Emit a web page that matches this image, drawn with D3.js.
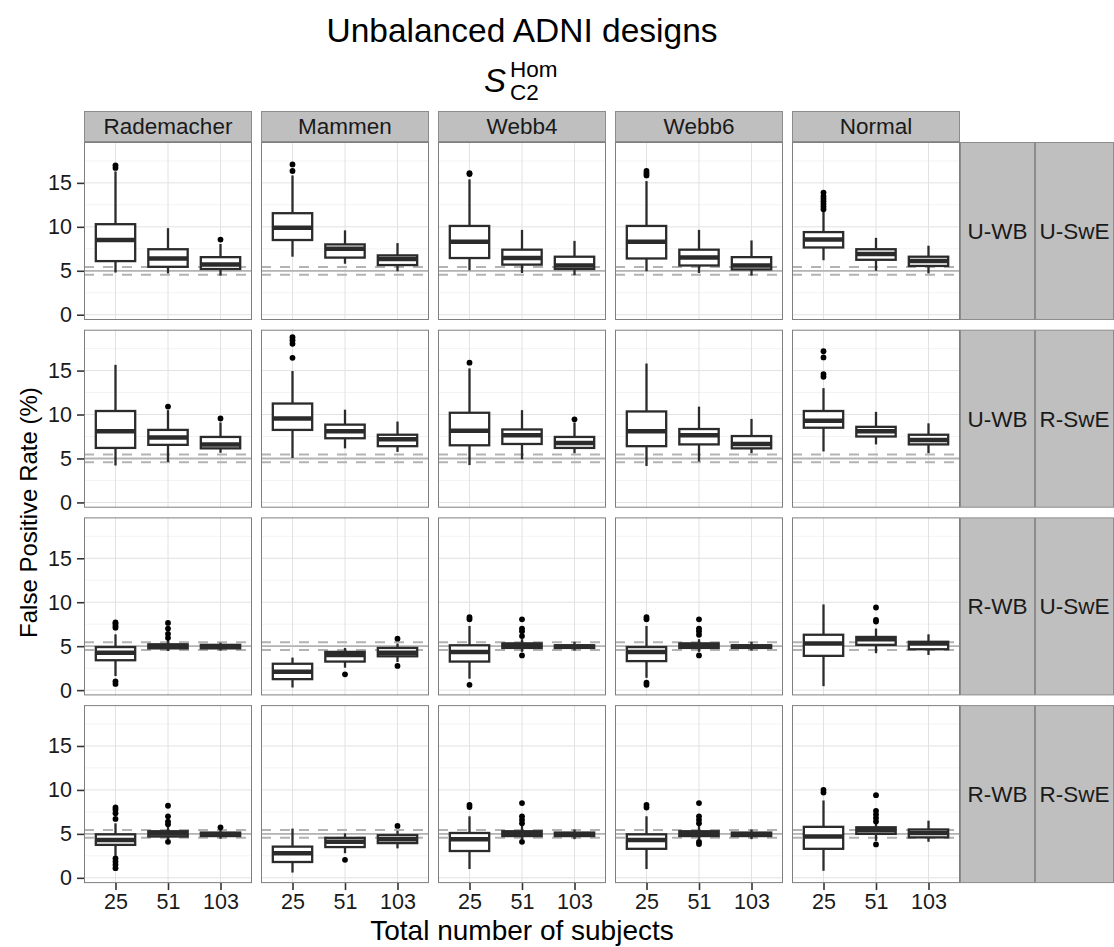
<!DOCTYPE html>
<html>
<head>
<meta charset="utf-8">
<script src="https://cdn.jsdelivr.net/npm/d3@7"></script>
<style>
  html, body { margin: 0; padding: 0; background: #fff; }
  svg { display: block; font-family: "Liberation Sans", Arial, Helvetica, sans-serif; }
</style>
</head>
<body>
<svg id="chart" width="1114" height="947"></svg>
<script>
// Facet levels
const methods = ["Rademacher", "Mammen", "Webb4", "Webb6", "Normal"];
const wbLabels = ["U-WB", "U-WB", "R-WB", "R-WB"];
const sweLabels = ["U-SwE", "R-SwE", "U-SwE", "R-SwE"];
const sizes = ["25", "51", "103"];
const yTicks = [0, 5, 10, 15];
const yMinor = [2.5, 7.5, 12.5, 17.5];

// Nominal level and its 95% band
const nominal = 5;
const bandLow = 4.56;
const bandHigh = 5.44;

// Box statistics per facet row, one entry per method x size:
// [lower whisker, Q1, median, Q3, upper whisker, outliers]
const statsUwbUswe = [
  [4.8, 6.1, 8.5, 10.3, 16.3, [16.7, 17.0]],
  [4.7, 5.45, 6.4, 7.45, 9.85, []],
  [4.45, 5.2, 5.7, 6.55, 8.05, [8.55]],
  [6.6, 8.5, 9.9, 11.55, 15.85, [16.35, 17.1]],
  [5.8, 6.5, 7.5, 8.0, 9.6, []],
  [4.95, 5.65, 6.35, 6.75, 8.15, []],
  [5.05, 6.45, 8.3, 10.1, 15.4, [16.0, 16.1]],
  [4.75, 5.7, 6.45, 7.4, 9.65, []],
  [4.5, 5.2, 5.6, 6.6, 8.4, []],
  [4.95, 6.4, 8.3, 10.1, 15.2, [15.85, 16.1, 16.35]],
  [4.75, 5.6, 6.5, 7.4, 9.65, []],
  [4.45, 5.15, 5.6, 6.55, 8.45, []],
  [6.2, 7.65, 8.55, 9.4, 11.7, [12.0, 12.3, 12.6, 12.9, 13.2, 13.5, 13.9]],
  [5.0, 6.25, 6.9, 7.45, 8.75, []],
  [4.7, 5.55, 6.1, 6.6, 7.85, []]
];
const statsUwbRswe = [
  [4.2, 6.2, 8.1, 10.4, 15.65, []],
  [4.6, 6.55, 7.4, 8.25, 10.5, [10.9]],
  [5.65, 6.15, 6.6, 7.45, 9.1, [9.55]],
  [5.05, 8.25, 9.55, 11.25, 14.95, [16.45, 18.05, 18.45, 18.8]],
  [6.15, 7.3, 8.1, 8.85, 10.55, []],
  [5.75, 6.4, 7.2, 7.7, 9.2, []],
  [4.25, 6.5, 8.15, 10.2, 15.25, [15.9]],
  [4.9, 6.65, 7.65, 8.3, 10.5, []],
  [5.6, 6.2, 6.75, 7.45, 9.1, [9.45]],
  [4.15, 6.4, 8.1, 10.35, 15.8, []],
  [4.65, 6.6, 7.65, 8.35, 10.9, []],
  [5.6, 6.15, 6.65, 7.55, 9.5, []],
  [5.8, 8.5, 9.3, 10.4, 13.0, [14.3, 14.6, 16.5, 17.2]],
  [6.6, 7.5, 8.1, 8.6, 10.3, []],
  [5.6, 6.6, 7.1, 7.7, 9.0, []]
];
const statsRwbUswe = [
  [1.6, 3.4, 4.25, 4.9, 6.35, [0.7, 1.0, 7.1, 7.3, 7.55, 7.7]],
  [4.45, 4.75, 5.05, 5.2, 5.7, [5.95, 6.4, 7.0, 7.65]],
  [4.5, 4.75, 4.95, 5.15, 5.4, []],
  [0.3, 1.25, 2.1, 3.0, 3.7, []],
  [2.55, 3.25, 4.0, 4.35, 4.8, [1.8]],
  [3.2, 3.85, 4.25, 4.8, 5.3, [2.75, 5.85]],
  [1.3, 3.25, 4.35, 5.1, 7.3, [0.6, 8.05, 8.3]],
  [4.35, 4.8, 5.15, 5.3, 5.8, [3.95, 6.15, 6.7, 7.0, 8.05]],
  [4.5, 4.8, 4.95, 5.1, 5.5, []],
  [1.4, 3.3, 4.35, 4.9, 7.3, [0.6, 0.85, 8.05, 8.3]],
  [4.35, 4.8, 5.15, 5.3, 5.8, [3.95, 6.3, 6.7, 7.0, 8.05]],
  [4.5, 4.8, 4.95, 5.1, 5.5, []],
  [0.45, 3.9, 5.3, 6.3, 9.75, []],
  [4.2, 5.15, 5.8, 6.05, 7.0, [7.8, 8.0, 9.4]],
  [4.0, 4.65, 5.3, 5.5, 6.35, []]
];
const statsRwbRswe = [
  [2.5, 3.75, 4.3, 4.95, 6.2, [1.1, 1.5, 1.85, 2.2, 6.7, 7.35, 7.75, 8.0]],
  [4.4, 4.7, 5.05, 5.3, 5.9, [4.1, 6.1, 6.4, 7.0, 8.2]],
  [4.45, 4.75, 4.95, 5.15, 5.5, [5.75]],
  [0.6, 1.8, 2.8, 3.55, 5.6, []],
  [2.8, 3.5, 4.1, 4.55, 5.05, [2.05]],
  [3.35, 3.95, 4.4, 4.85, 5.35, [5.9]],
  [1.0, 3.05, 4.4, 5.1, 7.0, [8.05, 8.3]],
  [4.4, 4.75, 5.05, 5.3, 5.9, [4.1, 6.2, 6.6, 7.0, 8.5]],
  [4.4, 4.75, 4.95, 5.15, 5.5, []],
  [1.0, 3.3, 4.3, 4.95, 7.0, [8.0, 8.3]],
  [4.4, 4.75, 5.05, 5.3, 5.9, [3.85, 4.1, 6.2, 6.6, 7.0, 8.5]],
  [4.4, 4.75, 4.95, 5.15, 5.5, []],
  [0.8, 3.3, 4.7, 5.8, 8.8, [9.7, 10.0]],
  [4.2, 5.0, 5.4, 5.75, 6.2, [3.8, 6.4, 6.8, 7.2, 7.6, 9.4]],
  [4.1, 4.6, 5.1, 5.5, 6.5, []]
];
const facetRows = [statsUwbUswe, statsUwbRswe, statsRwbUswe, statsRwbRswe];

// Layout
const panelLeft = 84, panelW = 168, colStep = 177;
const panelTop = 142, panelH = 178, rowStep = 187.7;
const stripTop = 111;
const wbStripX = 960, sweStripX = 1035, rightEdge = 1114;

const svg = d3.select("#chart");
const fontTick = 21.5, fontStrip = 22.5;
const stripFill = "#bfbfbf", stripStroke = "#8c8c8c";
const boxColor = "#2b2b2b";

const y = d3.scaleLinear().domain([-0.6, 19.65]).range([panelH, 0]);
const x = d3.scalePoint().domain(sizes).range([0, panelW]).padding(0.6);
const boxW = x.step() * 0.75;

// Title and subtitle
const cx = panelLeft + (colStep * 4 + panelW) / 2;
svg.append("text").attr("x", cx).attr("y", 42).attr("text-anchor", "middle")
  .attr("font-size", 33.5).attr("fill", "#000").text("Unbalanced ADNI designs");
const sub = svg.append("g").attr("transform", `translate(${cx - 38},0)`);
sub.append("text").attr("x", 0).attr("y", 92).attr("font-size", 33)
  .attr("font-style", "italic").text("S");
sub.append("text").attr("x", 26).attr("y", 77).attr("font-size", 22.5).text("Hom");
sub.append("text").attr("x", 26).attr("y", 100).attr("font-size", 22.5).text("C2");

// Column strips
methods.forEach((m, c) => {
  const px = panelLeft + c * colStep;
  svg.append("rect").attr("x", px + 0.5).attr("y", stripTop + 0.5)
    .attr("width", panelW - 1).attr("height", panelTop - stripTop - 1)
    .attr("fill", stripFill).attr("stroke", stripStroke);
  svg.append("text").attr("x", px + panelW / 2).attr("y", (stripTop + panelTop) / 2)
    .attr("dy", "0.35em").attr("text-anchor", "middle").attr("font-size", fontStrip)
    .attr("fill", "#1a1a1a").text(m);
});

facetRows.forEach((rowStats, r) => {
  const py = panelTop + r * rowStep;

  // Row strips
  [[wbStripX, sweStripX, wbLabels[r]], [sweStripX, rightEdge, sweLabels[r]]].forEach(([x0, x1, lab]) => {
    svg.append("rect").attr("x", x0 + 0.5).attr("y", py + 0.5)
      .attr("width", x1 - x0 - 1).attr("height", panelH - 1)
      .attr("fill", stripFill).attr("stroke", stripStroke);
    svg.append("text").attr("x", (x0 + x1) / 2).attr("y", py + panelH / 2)
      .attr("dy", "0.35em").attr("text-anchor", "middle").attr("font-size", fontStrip)
      .attr("fill", "#1a1a1a").text(lab);
  });

  methods.forEach((m, c) => {
    const px = panelLeft + c * colStep;
    const g = svg.append("g").attr("transform", `translate(${px},${py})`);

    g.append("rect").attr("width", panelW).attr("height", panelH).attr("fill", "#fff");

    // Grid
    g.selectAll(".minor").data(yMinor).join("line")
      .attr("x1", 0).attr("x2", panelW).attr("y1", d => y(d)).attr("y2", d => y(d))
      .attr("stroke", "#f3f3f3").attr("stroke-width", 1);
    g.selectAll(".major").data(yTicks).join("line")
      .attr("x1", 0).attr("x2", panelW).attr("y1", d => y(d)).attr("y2", d => y(d))
      .attr("stroke", "#e2e2e2").attr("stroke-width", 1);
    g.selectAll(".vgrid").data(sizes).join("line")
      .attr("x1", d => x(d)).attr("x2", d => x(d)).attr("y1", 0).attr("y2", panelH)
      .attr("stroke", "#e2e2e2").attr("stroke-width", 1);

    // Nominal level and band
    g.append("line").attr("x1", 0).attr("x2", panelW)
      .attr("y1", y(nominal)).attr("y2", y(nominal))
      .attr("stroke", "#b3b3b3").attr("stroke-width", 1.8);
    [bandLow, bandHigh].forEach(v => {
      g.append("line").attr("x1", 0).attr("x2", panelW).attr("y1", y(v)).attr("y2", y(v))
        .attr("stroke", "#b3b3b3").attr("stroke-width", 2).attr("stroke-dasharray", "10,9");
    });

    // Boxplots
    sizes.forEach((s, k) => {
      const [lo, q1, med, q3, hi, outs] = rowStats[c * 3 + k];
      const bx = x(s);
      const bg = g.append("g");
      bg.append("line").attr("x1", bx).attr("x2", bx).attr("y1", y(hi)).attr("y2", y(q3))
        .attr("stroke", boxColor).attr("stroke-width", 2.3);
      bg.append("line").attr("x1", bx).attr("x2", bx).attr("y1", y(q1)).attr("y2", y(lo))
        .attr("stroke", boxColor).attr("stroke-width", 2.3);
      bg.append("rect").attr("x", bx - boxW / 2).attr("y", y(q3))
        .attr("width", boxW).attr("height", Math.max(0.5, y(q1) - y(q3)))
        .attr("fill", "#fff").attr("stroke", boxColor).attr("stroke-width", 2.3);
      bg.append("line").attr("x1", bx - boxW / 2).attr("x2", bx + boxW / 2)
        .attr("y1", y(med)).attr("y2", y(med))
        .attr("stroke", boxColor).attr("stroke-width", 4.5);
      bg.selectAll("circle").data(outs).join("circle")
        .attr("cx", bx).attr("cy", d => y(d)).attr("r", 2.9).attr("fill", "#000");
    });

    g.append("rect").attr("x", 0.5).attr("y", 0.5).attr("width", panelW - 1).attr("height", panelH - 1)
      .attr("fill", "none").attr("stroke", "#7f7f7f").attr("stroke-width", 1);

    // Axes
    if (c === 0) {
      const ax = g.append("g").call(d3.axisLeft(y).tickValues(yTicks).tickSize(7).tickPadding(5));
      ax.select(".domain").remove();
      ax.selectAll("line").attr("stroke", "#333").attr("stroke-width", 1.6);
      ax.selectAll("text").attr("font-size", fontTick).attr("fill", "#1a1a1a")
        .attr("font-family", "Liberation Sans, Arial, sans-serif");
    }
    if (r === facetRows.length - 1) {
      const ax = g.append("g").attr("transform", `translate(0,${panelH})`)
        .call(d3.axisBottom(x).tickSize(7).tickPadding(4));
      ax.select(".domain").remove();
      ax.selectAll("line").attr("stroke", "#333").attr("stroke-width", 1.6);
      ax.selectAll("text").attr("font-size", fontTick).attr("fill", "#1a1a1a")
        .attr("font-family", "Liberation Sans, Arial, sans-serif");
    }
  });
});

// Axis titles
const bottomY = panelTop + 3 * rowStep + panelH;
svg.append("text").attr("x", cx).attr("y", 940).attr("text-anchor", "middle")
  .attr("font-size", 28).text("Total number of subjects");
const midY = (panelTop + bottomY) / 2;
svg.append("text").attr("transform", `translate(37,${midY}) rotate(-90)`)
  .attr("text-anchor", "middle").attr("font-size", 24)
  .text("False Positive Rate (%)");
</script>
</body>
</html>
